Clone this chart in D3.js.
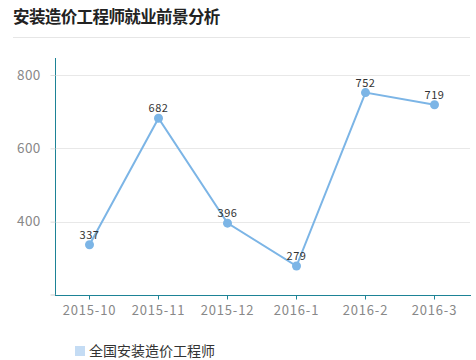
<!DOCTYPE html>
<html>
<head>
<meta charset="utf-8">
<script src="https://cdn.jsdelivr.net/npm/d3@7"></script>
<style>
body { margin: 0; background: #fff; }
text { font-family: "Noto Sans CJK SC", "Noto Sans", sans-serif; }
</style>
</head>
<body>
<div id="chart"></div>
<script>
// data
var months = ["2015-10", "2015-11", "2015-12", "2016-1", "2016-2", "2016-3"];
var salary = [337, 682, 396, 279, 752, 719];
var yTicks = [400, 600, 800];
var seriesName = "全国安装造价工程师";
var title = "安装造价工程师就业前景分析";

var w = 476;
var h = 360;

var svg = d3.select("#chart").append("svg")
  .attr("width", w)
  .attr("height", h);

// title + rule under it
svg.append("text")
  .attr("x", 13)
  .attr("y", 23)
  .attr("font-size", 16.5)
  .attr("font-weight", "bold")
  .attr("letter-spacing", -0.6)
  .attr("fill", "#222")
  .text(title);

svg.append("line")
  .attr("x1", 13).attr("x2", 470)
  .attr("y1", 37.5).attr("y2", 37.5)
  .attr("stroke", "#e6e6e6");

var xScale = d3.scaleBand()
  .domain(months)
  .range([55, 469]);

var yScale = d3.scaleLinear()
  .domain([200, 800])
  .range([295, 75]);

var axisColor = "#1d8396";

// grid lines
svg.selectAll(".grid")
  .data(yTicks)
  .enter()
  .append("line")
  .attr("x1", 55).attr("x2", 470)
  .attr("y1", function(d) { return Math.round(yScale(d)) + 0.5; })
  .attr("y2", function(d) { return Math.round(yScale(d)) + 0.5; })
  .attr("stroke", "#e8e8e8");

// y axis
var yAxis = svg.append("g")
  .attr("transform", "translate(55.5,0)")
  .call(d3.axisLeft(yScale).tickValues(yTicks).tickSize(5).tickSizeOuter(0));
yAxis.select(".domain").attr("d", "M0,58V295").attr("stroke", axisColor);
yAxis.selectAll(".tick line").attr("stroke", "#ddd");
yAxis.selectAll(".tick text")
  .attr("x", -15)
  .attr("font-size", 13.5)
  .attr("letter-spacing", 0.3)
  .attr("fill", "#888");
yAxis.append("line")
  .attr("x1", -5).attr("x2", 0)
  .attr("y1", 295).attr("y2", 295)
  .attr("stroke", "#ccc");

// x axis
var xAxis = svg.append("g")
  .attr("transform", "translate(0,295.5)")
  .call(d3.axisBottom(xScale).tickSize(4).tickSizeOuter(0));
xAxis.select(".domain").attr("d", "M55,0H471").attr("stroke", axisColor);
xAxis.selectAll(".tick line").attr("stroke", axisColor);
xAxis.selectAll(".tick text")
  .attr("y", 10)
  .attr("font-size", 13)
  .attr("letter-spacing", 0.8)
  .attr("fill", "#888");

var cx = function(d, i) { return xScale(months[i]) + xScale.bandwidth() / 2; };

var line = d3.line()
  .x(cx)
  .y(function(d) { return yScale(d); });

svg.append("path")
  .datum(salary)
  .attr("d", line)
  .attr("fill", "none")
  .attr("stroke", "#7cb5e6")
  .attr("stroke-width", 2);

svg.selectAll(".pt")
  .data(salary)
  .enter()
  .append("circle")
  .attr("cx", cx)
  .attr("cy", function(d) { return yScale(d); })
  .attr("r", 4.5)
  .attr("fill", "#7cb5e6");

svg.selectAll(".lbl")
  .data(salary)
  .enter()
  .append("text")
  .attr("x", cx)
  .attr("y", function(d) { return yScale(d) - 6; })
  .attr("text-anchor", "middle")
  .attr("font-size", 11)
  .attr("letter-spacing", 0.5)
  .attr("fill", "#333")
  .text(function(d) { return d; });

// legend
svg.append("rect")
  .attr("x", 75).attr("y", 346)
  .attr("width", 10).attr("height", 10)
  .attr("fill", "#c4dcf4");
svg.append("text")
  .attr("x", 89)
  .attr("y", 356)
  .attr("font-size", 14)
  .attr("fill", "#333")
  .text(seriesName);
</script>
</body>
</html>
